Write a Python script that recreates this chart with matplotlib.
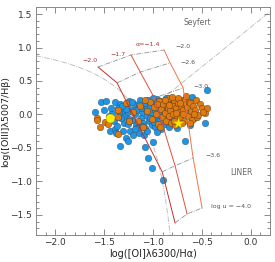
import numpy as np
import matplotlib
matplotlib.use('Agg')
import matplotlib.pyplot as plt
from matplotlib.ticker import MultipleLocator

# photoionisation grid: one row per alpha, one column per log U
alphas = ['-2.0', '-1.7', '-1.4']
logus = ['-2.0', '-2.6', '-3.0', '-3.6', '-4.0']
grid_x = [[-1.562, -1.367, -1.240, -0.905, -0.773],
          [-1.224, -1.130, -0.985, -0.773, -0.650],
          [-0.885, -0.824, -0.690, -0.588, -0.496]]
grid_y = [[0.709, 0.472, 0.100, -0.856, -1.620],
          [0.888, 0.634, 0.247, -0.766, -1.485],
          [0.963, 0.770, 0.397, -0.649, -1.396]]

# Kewley et al. 2006 demarcation lines
kew_a, kew_b, kew_c = 0.73, 0.59, 1.33
sl_m, sl_q = 1.18, 1.30

blue = [(-1.53, 0.19), (-1.48, 0.20), (-1.39, 0.19), (-1.59, 0.04), (-1.34, 0.16),
        (-1.36, 0.09), (-1.44, -0.25), (-1.34, -0.47), (-1.28, -0.35), (-1.26, -0.40),
        (-1.39, -0.22), (-1.42, 0.02), (-1.40, -0.10), (-1.31, 0.05), (-1.29, -0.02),
        (-1.27, 0.12), (-1.24, 0.20), (-1.22, 0.07), (-1.21, -0.08), (-1.19, 0.15),
        (-1.18, 0.01), (-1.17, -0.15), (-1.16, -0.20), (-1.15, 0.10), (-1.13, 0.22),
        (-1.12, -0.05), (-1.11, 0.04), (-1.10, -0.12), (-1.08, -0.20), (-1.08, 0.16),
        (-1.07, 0.08), (-1.06, -0.02), (-1.05, 0.21), (-1.04, -0.09), (-1.03, 0.12),
        (-1.02, 0.02), (-1.01, -0.16), (-0.99, 0.18), (-0.98, -0.19), (-0.98, 0.07),
        (-0.97, -0.05), (-0.96, 0.23), (-0.95, 0.13), (-0.94, -0.10), (-0.93, 0.03),
        (-0.92, -0.22), (-0.91, 0.17), (-0.90, -0.02), (-0.89, 0.10), (-0.88, -0.14),
        (-0.86, 0.05), (-0.85, 0.20), (-0.84, -0.07), (-0.82, 0.12), (-0.80, -0.03),
        (-0.78, 0.16), (-0.76, 0.06), (-0.73, -0.08), (-0.70, 0.10), (-1.30, -0.12),
        (-1.33, -0.05), (-1.35, 0.03), (-1.25, -0.14), (-1.23, -0.24), (-1.20, -0.30),
        (-1.14, -0.27), (-1.09, -0.30), (-1.08, -0.49), (-1.05, -0.65), (-1.01, -0.80),
        (-0.90, -0.98), (-1.00, -0.41), (-0.67, -0.40), (-0.45, 0.37), (-0.60, 0.26),
        (-0.47, -0.13), (-1.37, -0.17), (-1.43, 0.10), (-1.26, 0.03), (-1.21, 0.18),
        (-1.14, 0.14), (-1.00, 0.25), (-0.87, 0.25), (-1.18, -0.22), (-1.06, -0.25),
        (-0.96, -0.26), (-1.28, 0.08), (-1.12, 0.09), (-1.03, -0.05), (-0.93, 0.20),
        (-1.32, 0.13), (-1.24, -0.07), (-1.17, 0.06), (-1.45, -0.03), (-1.38, -0.28),
        (-1.50, 0.06), (-1.31, -0.25), (-1.11, -0.17), (-0.99, -0.11), (-0.83, -0.18),
        (-0.75, -0.20), (-0.62, -0.15), (-0.58, -0.05), (-0.64, 0.02)]

orange = [(-1.57, -0.05), (-1.57, -0.08), (-1.54, -0.19), (-1.49, -0.11), (-1.46, -0.14),
          (-1.36, -0.04), (-1.36, 0.07), (-1.36, -0.29), (-1.28, 0.17), (-1.24, -0.10),
          (-1.20, 0.03), (-1.15, -0.09), (-1.13, 0.12), (-1.10, -0.19), (-1.06, 0.05),
          (-1.03, 0.18), (-1.01, -0.07), (-0.99, 0.11), (-0.97, 0.01), (-0.95, -0.14),
          (-0.94, 0.20), (-0.92, 0.08), (-0.91, -0.04), (-0.90, 0.15), (-0.88, 0.02),
          (-0.87, -0.09), (-0.86, 0.19), (-0.85, 0.10), (-0.84, -0.02), (-0.83, 0.24),
          (-0.82, 0.06), (-0.81, -0.12), (-0.80, 0.14), (-0.79, 0.00), (-0.78, 0.21),
          (-0.77, -0.16), (-0.76, 0.09), (-0.75, -0.06), (-0.74, 0.17), (-0.73, 0.03),
          (-0.72, -0.05), (-0.71, 0.12), (-0.70, 0.22), (-0.69, 0.07), (-0.68, -0.10),
          (-0.67, 0.22), (-0.66, 0.15), (-0.65, 0.11), (-0.64, -0.03), (-0.63, 0.19),
          (-0.62, 0.17), (-0.61, 0.05), (-0.60, -0.08), (-0.59, 0.13), (-0.57, 0.07),
          (-0.56, 0.21), (-0.55, -0.04), (-0.54, -0.01), (-0.52, 0.15), (-0.50, 0.10),
          (-0.47, 0.02), (-0.45, 0.10), (-0.49, 0.04), (-0.58, 0.00), (-0.62, -0.13),
          (-0.70, -0.13), (-0.78, -0.10), (-0.88, 0.22), (-0.93, -0.18), (-0.96, 0.16),
          (-1.08, 0.22), (-0.74, 0.25), (-0.66, 0.27), (-0.80, 0.26), (-0.72, 0.17),
          (-0.84, 0.14), (-0.76, 0.02), (-0.69, 0.01)]

yellow_dot = (-1.44, -0.05)
yellow_star = (-0.74, -0.13)

alpha_colors = ['#c0322e', '#e0503a', '#f07448']
grey = '#8a8a8a'

fig = plt.figure(figsize=(2.75, 2.62), dpi=100)
ax = fig.add_axes([0.13, 0.103, 0.852, 0.869])

# demarcation curves
xk = np.linspace(-2.2, -0.823, 200)
ax.plot(xk, kew_a / (xk + kew_b) + kew_c, color='#b8b8b8', ls='-.', lw=0.6, zorder=1)
xs = np.array([-1.13, 0.2])
ax.plot(xs, sl_m * xs + sl_q, color='#b8b8b8', ls='-.', lw=0.6, zorder=1)

bx, by = zip(*blue)
ox, oy = zip(*orange)
ax.scatter(bx, by, s=22, c='#1f95e3', edgecolors='#2a4a66', linewidths=0.3, zorder=2)
ax.scatter(ox, oy, s=22, c='#dd7a12', edgecolors='#5a3410', linewidths=0.3, zorder=2)
ax.scatter(*yellow_dot, s=40, c='#ffee00', edgecolors='#bbaa00', linewidths=0.3, zorder=4)
ax.scatter(*yellow_star, s=70, marker='*', c='#ffee00', edgecolors='#bbaa00',
           linewidths=0.3, zorder=4)

# model grid
for i in range(len(alphas)):
    ax.plot(grid_x[i], grid_y[i], color=alpha_colors[i], lw=0.7, zorder=3)
for j in range(len(logus)):
    ax.plot([row[j] for row in grid_x], [row[j] for row in grid_y],
            color=grey, ls='-.', lw=0.55, zorder=3)

red_txt = '#b03030'
ax.text(-1.64, 0.80, '−2.0', color=red_txt, fontsize=4.5, ha='center', va='center')
ax.text(-1.36, 0.90, '−1.7', color=red_txt, fontsize=4.5, ha='center', va='center')
ax.text(-1.05, 1.04, 'α=−1.4', color=red_txt, fontsize=4.5, ha='center', va='center')
ax.text(-0.77, 1.01, '−2.0', color='#555555', fontsize=4.5, ha='left', va='center')
ax.text(-0.72, 0.77, '−2.6', color='#555555', fontsize=4.5, ha='left', va='center')
ax.text(-0.59, 0.42, '−3.0', color='#555555', fontsize=4.5, ha='left', va='center')
ax.text(-0.46, -0.62, '−3.6', color='#555555', fontsize=4.5, ha='left', va='center')
ax.text(-0.40, -1.38, 'log u = −4.0', color='#555555', fontsize=4.5, ha='left', va='center')
ax.text(-0.55, 1.37, 'Seyfert', color='#666666', fontsize=5.5, ha='center', va='center')
ax.text(-0.09, -0.87, 'LINER', color='#666666', fontsize=5.5, ha='center', va='center')

ax.set_xlim(-2.2, 0.2)
ax.set_ylim(-1.8, 1.6)
ax.xaxis.set_major_locator(MultipleLocator(0.5))
ax.yaxis.set_major_locator(MultipleLocator(0.5))
ax.xaxis.set_minor_locator(MultipleLocator(0.1))
ax.yaxis.set_minor_locator(MultipleLocator(0.1))
ax.tick_params(which='both', direction='in', top=True, right=True, width=0.6,
               color='#777777', labelsize=6.5, labelcolor='#333333', pad=2.5)
ax.tick_params(which='major', length=4)
ax.tick_params(which='minor', length=2)
for sp in ax.spines.values():
    sp.set_color('#888888')
    sp.set_linewidth(0.7)

ax.set_xlabel('log([OI]λ6300/Hα)', fontsize=7, labelpad=1, color='#222222')
ax.set_ylabel('log([OIII]λ5007/Hβ)', fontsize=6.8, color='#222222')
ax.yaxis.set_label_coords(-0.11, 0.5)

fig.savefig('out.png', dpi=100)
